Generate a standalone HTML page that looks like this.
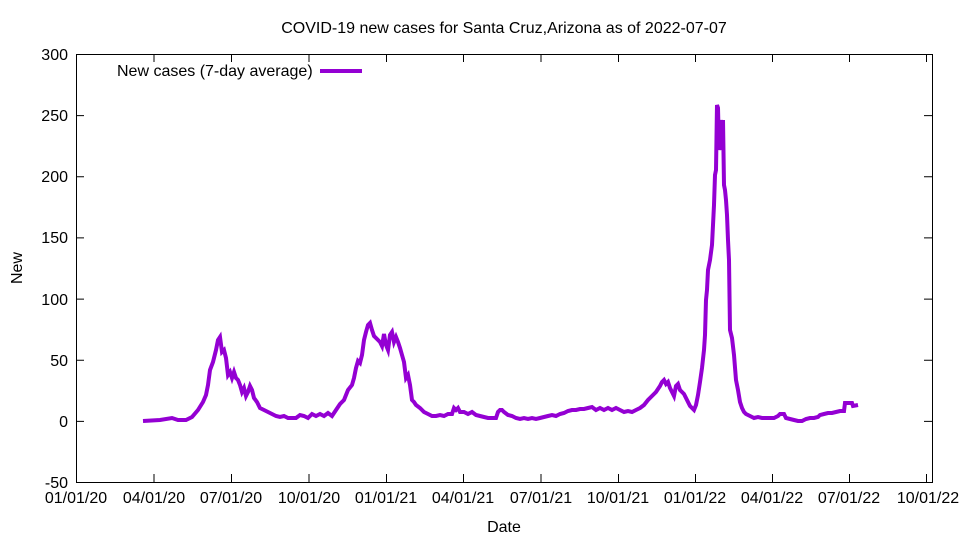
<!DOCTYPE html>
<html><head><meta charset="utf-8"><style>
body{margin:0;background:#fff}
svg text{font-family:"Liberation Sans",sans-serif;font-size:16px;fill:#000}
</style></head><body>
<svg width="960" height="540" viewBox="0 0 960 540">
<rect x="76.5" y="54.5" width="856" height="428" fill="none" stroke="#000" stroke-width="1"/>
<g stroke="#000" stroke-width="1">
<path d="M76 54.5h8M932 54.5h-8M76 115.6h8M932 115.6h-8M76 176.8h8M932 176.8h-8M76 237.9h8M932 237.9h-8M76 299.1h8M932 299.1h-8M76 360.2h8M932 360.2h-8M76 421.4h8M932 421.4h-8"/>
<path d="M76.5 482v-8M154 482v-8M231.5 482v-8M309 482v-8M386.5 482v-8M463.5 482v-8M541 482v-8M618.5 482v-8M695.5 482v-8M772.5 482v-8M849.5 482v-8M926.5 482v-8"/>
<path d="M76.5 54v8M154 54v8M231.5 54v8M309 54v8M386.5 54v8M463.5 54v8M541 54v8M618.5 54v8M695.5 54v8M772.5 54v8M849.5 54v8M926.5 54v8"/>
</g>
<g text-anchor="end">
<text x="68" y="60">300</text><text x="68" y="121">250</text><text x="68" y="182">200</text><text x="68" y="243">150</text><text x="68" y="305">100</text><text x="68" y="366">50</text><text x="68" y="427">0</text><text x="68" y="488">-50</text>
</g>
<g text-anchor="middle">
<text x="76" y="503">01/01/20</text><text x="154" y="503">04/01/20</text><text x="231" y="503">07/01/20</text><text x="309" y="503">10/01/20</text><text x="386" y="503">01/01/21</text><text x="463" y="503">04/01/21</text><text x="541" y="503">07/01/21</text><text x="618" y="503">10/01/21</text><text x="695" y="503">01/01/22</text><text x="772" y="503">04/01/22</text><text x="849" y="503">07/01/22</text><text x="928" y="503">10/01/22</text>
<text x="504" y="532">Date</text>
<text x="504" y="33">COVID-19 new cases for Santa Cruz,Arizona as of 2022-07-07</text>
</g>
<text x="22" y="268" text-anchor="middle" transform="rotate(-90 22 268)">New</text>
<text x="117" y="76">New cases (7-day average)</text>
<path d="M320 71h42" stroke="#9400d3" stroke-width="4"/>
<polyline fill="none" stroke="#9400d3" stroke-width="4" stroke-linejoin="miter" points="143,421 160,420 172,418 178,420 186,420 192,417 198,410 203,402 206,395 208,385 210,370 213,362 216,350 218,340 220,337 222,352 224,350 226,358 228,375 230,372 232,378 234,372 236,378 238,380 240,385 242,392 244,388 246,396 248,392 250,386 252,390 254,398 257,402 260,408 264,410 268,412 272,414 276,416 280,417 284,416 288,418 292,418 296,418 300,415 304,416 308,418 312,414 316,416 320,414 324,416 328,413 332,416 336,410 340,404 344,400 348,390 352,385 354,378 356,368 358,361 360,363 362,355 364,340 366,332 368,325 370,323 372,330 374,336 376,338 378,340 380,342 382,346 384,334 386,345 388,350 390,335 392,332 394,342 396,337 398,342 400,348 402,355 404,362 406,378 408,375 410,385 412,400 414,402 416,405 420,408 424,412 428,414 432,416 436,416 440,415 444,416 448,414 452,414 454,408 456,410 458,408 460,412 464,412 468,414 472,412 476,415 480,416 484,417 488,418 492,418 496,418 498,412 500,410 502,410 504,412 508,415 512,416 516,418 520,419 524,418 528,419 532,418 536,419 540,418 544,417 548,416 552,415 556,416 560,414 564,413 568,411 572,410 576,410 580,409 584,409 588,408 592,407 596,410 600,408 604,410 608,408 612,410 616,408 620,410 624,412 628,411 632,412 636,410 640,408 644,405 648,400 652,396 656,392 660,386 662,382 664,380 666,384 668,382 670,388 672,392 674,396 676,386 678,384 680,390 682,392 684,394 686,398 688,402 690,406 692,408 694,410 696,405 698,395 700,382 702,368 704,350 705,335 706,300 707,290 708,270 710,260 712,245 713,225 714,205 715,175 716,170 717,105 718,108 719,150 720,140 721,120 722,150 723,120 724,185 725,190 726,200 727,215 728,240 729,260 730,330 732,338 734,355 736,380 738,390 740,402 742,408 744,412 746,414 750,416 754,418 758,417 762,418 766,418 770,418 774,418 778,416 780,414 784,414 786,418 790,419 794,420 798,421 802,421 806,419 810,418 814,418 818,417 820,415 824,414 828,413 832,413 836,412 840,411 844,411 845,403 852,403 853,406 858,405"/>
</svg>
</body></html>
